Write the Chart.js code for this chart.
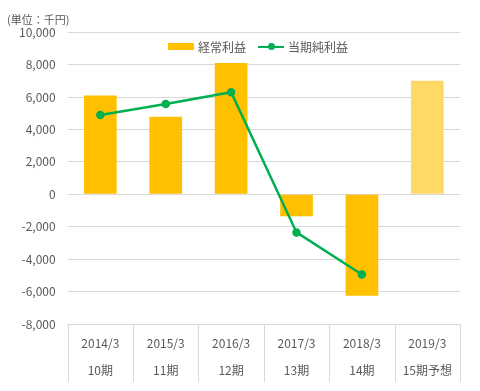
<!DOCTYPE html>
<html>
<head>
<meta charset="utf-8">
<script src="https://cdn.jsdelivr.net/npm/chart.js@4.4.0/dist/chart.umd.min.js"></script>
<style>
  body { margin: 0; background: #fff; font-family: "Noto Sans CJK JP", sans-serif; }
  #wrap { position: relative; width: 480px; height: 391px; }
  #legend { position: absolute; left: 168px; top: 38px; display: flex; align-items: center;
            font: 12px "Noto Sans CJK JP", sans-serif; color: #595959; }
  .item { display: flex; align-items: center; margin-right: 12px; }
  .box { width: 26px; height: 7px; margin-right: 4px; }
  .ln { position: relative; width: 26px; height: 2px; margin-right: 4px; }
  .ln i { position: absolute; left: 10px; top: -3px; width: 7px; height: 7px; border-radius: 50%; }
</style>
</head>
<body>
<div id="wrap">
  <canvas id="chart" width="480" height="391"></canvas>
  <div id="legend"></div>
</div>
<script>
const years = ['2014/3', '2015/3', '2016/3', '2017/3', '2018/3', '2019/3'];
const periods = ['10期', '11期', '12期', '13期', '14期', '15期予想'];
const keijou = [6100, 4780, 8100, -1360, -6250, 7000];
const junrieki = [4890, 5570, 6300, -2350, -4950, null];
const barColors = ['#FFC000', '#FFC000', '#FFC000', '#FFC000', '#FFC000', '#FFD966'];
const lineColor = '#00B050';

const labels = years.map((y, i) => [y, periods[i]]);

const legend = document.getElementById('legend');
legend.innerHTML =
  '<div class="item"><span class="box" style="background:#FFC000"></span>経常利益</div>' +
  '<div class="item"><span class="ln" style="background:' + lineColor + '"><i style="background:' + lineColor + '"></i></span>当期純利益</div>';

// table-like separators under the x axis
const tableLines = {
    id: 'tableLines',
    afterDraw(chart) {
        const x = chart.scales.x;
        const c = chart.ctx;
        const half = (x.getPixelForValue(1) - x.getPixelForValue(0)) / 2;
        c.save();
        c.strokeStyle = '#d9d9d9';
        c.lineWidth = 1;
        for (let i = 0; i <= labels.length; i++) {
            const px = Math.round(x.getPixelForValue(0) - half + i * half * 2) + 0.5;
            c.beginPath();
            c.moveTo(px, chart.chartArea.bottom);
            c.lineTo(px, chart.chartArea.bottom + 58);
            c.stroke();
        }
        c.restore();
    }
};

const ctx = document.getElementById('chart').getContext('2d');
const myChart = new Chart(ctx, {
    type: 'bar',
    data: {
        labels: labels,
        datasets: [{
            type: 'line',
            label: '当期純利益',
            data: junrieki,
            borderColor: lineColor,
            backgroundColor: lineColor,
            borderWidth: 2.5,
            pointRadius: 3,
            tension: 0,
            order: 0
        }, {
            label: '経常利益',
            data: keijou,
            backgroundColor: barColors,
            categoryPercentage: 1,
            barPercentage: 0.5,
            order: 1
        }]
    },
    options: {
        responsive: false,
        animation: false,
        layout: { padding: { left: 7, right: 20, top: 9, bottom: 9 } },
        plugins: {
            legend: { display: false },
            tooltip: { enabled: false },
            title: {
                display: true,
                text: '(単位：千円)',
                align: 'start',
                color: '#595959',
                font: { size: 11, family: '"Noto Sans CJK JP", sans-serif', weight: 'normal' },
                padding: { top: 4, bottom: 6 }
            }
        },
        scales: {
            x: {
                grid: { display: false },
                border: { display: true, color: '#d9d9d9' },
                ticks: {
                    color: '#595959',
                    padding: -2,
                    font: { size: 12, family: '"Noto Sans CJK JP", sans-serif', lineHeight: 2.25 },
                    maxRotation: 0
                }
            },
            y: {
                min: -8000,
                max: 10000,
                grid: { color: '#d9d9d9', drawTicks: false },
                border: { display: false },
                ticks: {
                    stepSize: 2000,
                    color: '#595959',
                    padding: 12,
                    font: { size: 12, family: '"Noto Sans CJK JP", sans-serif' },
                    callback: function(value) {
                        return value.toLocaleString('en-US');
                    }
                }
            }
        }
    },
    plugins: [tableLines]
});
</script>
</body>
</html>
